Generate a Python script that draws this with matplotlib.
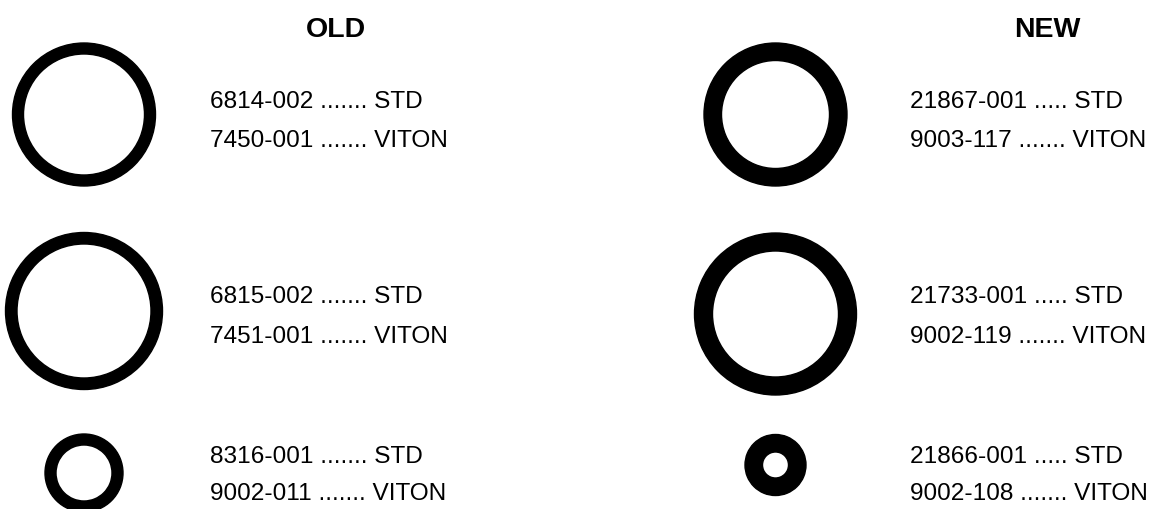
import matplotlib.pyplot as plt
from matplotlib.patches import Annulus

# O-ring sizes (outer radius, ring thickness, in px)
old_radius = [71.5, 78.5, 39]
old_thick = [11, 11.5, 11]
new_radius = [71.5, 81, 30.5]
new_thick = [17.5, 18, 17.5]

# part numbers for each ring
old_std = ["6814-002", "6815-002", "8316-001"]
old_viton = ["7450-001", "7451-001", "9002-011"]
new_std = ["21867-001", "21733-001", "21866-001"]
new_viton = ["9003-117", "9002-119", "9002-108"]

plt.rcParams['font.family'] = ['Liberation Sans', 'DejaVu Sans']

fig = plt.figure(figsize=(11.53, 5.10), dpi=100)
ax = fig.add_axes([0, 0, 1, 1])
ax.set_xlim(0, 1153)
ax.set_ylim(510, 0)
ax.set_aspect('equal')
ax.axis('off')

# row centres of the rings and text baselines
old_ring_y = [115.5, 312, 474]
new_ring_y = [115.5, 315, 466]
text_y = [(107.5, 147.5), (303.5, 343.5), (463.5, 500)]

ax.text(335.5, 37, "OLD", fontsize=20.5, fontweight='bold', ha='center', va='baseline')
ax.text(1047, 37, "NEW", fontsize=20.5, fontweight='bold', ha='center', va='baseline')

fs = 17.6
for i in range(3):
    # old ring on the left
    ax.add_patch(Annulus((84, old_ring_y[i]), old_radius[i], old_thick[i], color='black'))
    ax.text(210, text_y[i][0], old_std[i] + " ....... STD", fontsize=fs, va='baseline')
    ax.text(210, text_y[i][1], old_viton[i] + " ....... VITON", fontsize=fs, va='baseline')

    # new ring on the right
    ax.add_patch(Annulus((775.5, new_ring_y[i]), new_radius[i], new_thick[i], color='black'))
    ax.text(910, text_y[i][0], new_std[i] + " ..... STD", fontsize=fs, va='baseline')
    ax.text(910, text_y[i][1], new_viton[i] + " ....... VITON", fontsize=fs, va='baseline')

fig.savefig("out.png", dpi=100)
